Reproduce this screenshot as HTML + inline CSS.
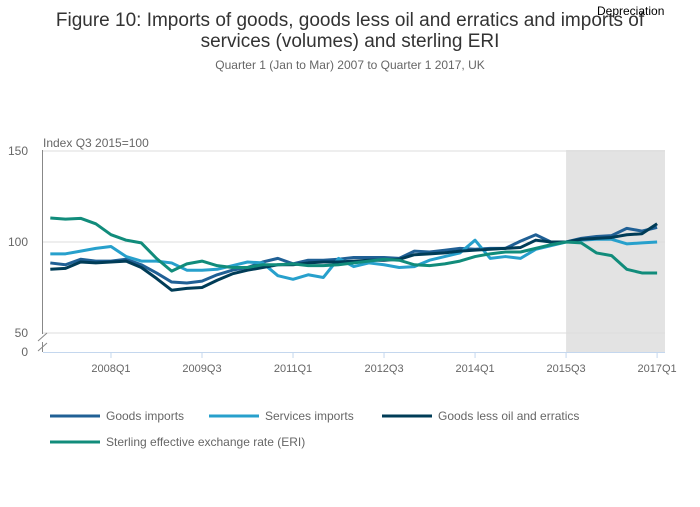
<!DOCTYPE html>
<html><head><meta charset="utf-8"><style>
body{margin:0;width:700px;height:502px;background:#fff;font-family:"Liberation Sans",sans-serif;overflow:hidden}
svg text{font-family:"Liberation Sans",sans-serif}
</style></head><body>
<svg id="c" width="700" height="502">
<text x="350" y="26" text-anchor="middle" font-size="19" fill="#333">Figure 10: Imports of goods, goods less oil and erratics and imports of</text>
<text x="350" y="47" text-anchor="middle" font-size="19" fill="#333">services (volumes) and sterling ERI</text>
<text x="350" y="69" text-anchor="middle" font-size="12" fill="#666">Quarter 1 (Jan to Mar) 2007 to Quarter 1 2017, UK</text>
<text x="597" y="15" font-size="12" fill="#000">Depreciation</text>
<text x="43" y="147" font-size="12" fill="#666">Index Q3 2015=100</text>
<g id="plot"></g>
</svg>
<script>
const categories=[];for(let y=2007;y<=2017;y++)for(let q=1;q<=4;q++){if(y===2017&&q>1)break;categories.push(y+'Q'+q);}
const goods=[88.5,87.5,90.5,89.5,89.5,90.5,87.5,83,78,77.5,78.5,82,84.5,86,89,91,88,90,90,90.5,91.5,91.5,91.5,91,95,94.5,95.5,96.5,96,96.5,96.5,100.5,104,100,100,102,103,103.5,107.5,106,108];
const services=[93.5,93.5,95,96.5,97.5,92,89.5,89.5,88.5,84.5,84.5,85,87,89,88.5,81.5,79.5,82,80.5,91,86.5,88.5,87.5,86,86.5,90,92,94,101,91,92,91,96,98,100,101,101.5,101.5,99,99.5,100];
const goodsLessOil=[85,85.5,89,88.5,89,89.5,86,80,73.5,74.5,75,79,82.5,84.5,86,87.5,87.5,88.5,89,89,89.5,90,90,90.5,93,93.5,94,95,95.5,96,96.5,97,101,100,100,101.5,102,102.5,104,104.5,110];
const eri=[113.2,112.6,113,110,104,101,99.5,91,84,88,89.5,87,86,86,87.5,87.5,88,87,87,87.5,88.5,89.5,90.5,90,87.5,87,88,89.5,92,93.5,94.5,94.5,96.5,98.5,100,99.5,94,92.5,85,83,83];
const yTicks=[150,100,50];
const xTickLabels=['2008Q1','2009Q3','2011Q1','2012Q3','2014Q1','2015Q3','2017Q1'];
const seriesNames=['Goods imports','Services imports','Goods less oil and erratics','Sterling effective exchange rate (ERI)'];
const colors=['#206095','#27a0cc','#003c57','#118c7b'];
const NS='http://www.w3.org/2000/svg';
const g=document.getElementById('plot');
const X=i=>50.3+i*15.17;
const Y=v=>242-(v-100)*1.82;
function mk(t,a){const e=document.createElementNS(NS,t);for(const k in a)e.setAttribute(k,a[k]);g.appendChild(e);return e;}
let r=mk('rect',{x:X(34),y:150,width:665-X(34),height:202,fill:'#e3e3e3'});


yTicks.forEach(v=>{
 let l=mk('line',{x1:43,x2:665,y1:Y(v),y2:Y(v),stroke:'#ddd','stroke-width':1});
 
 
 let t=mk('text',{x:28,y:Y(v)+4,'text-anchor':'end','font-size':12,fill:'#666'});t.textContent=v;
 
 
});
let z=mk('text',{x:28,y:356,'text-anchor':'end','font-size':12,fill:'#666'});z.textContent='0';


let ya=mk('path',{d:'M42.5,150V334M42.5,342V352',stroke:'#888',fill:'none'});


let br=mk('path',{d:'M38,341L47,333M38,351L47,343',stroke:'#888',fill:'none'});


let xa=mk('line',{x1:43,x2:665,y1:352.5,y2:352.5,stroke:'#c4d7ee'});


xTickLabels.forEach(lab=>{
 const i=categories.indexOf(lab);
 let tk=mk('line',{x1:X(i),x2:X(i),y1:352,y2:358,stroke:'#c4d7ee'});
 
 
 let t=mk('text',{x:X(i),y:372,'text-anchor':'middle','font-size':11,fill:'#666'});t.textContent=lab;
 
 
});
[goods,services,goodsLessOil,eri].forEach((s,k)=>{
 let p=mk('polyline',{points:s.map((v,i)=>X(i)+','+Y(v)).join(' '),fill:'none',stroke:colors[k],'stroke-width':3,'stroke-linejoin':'round'});
 
 
});
const lp=[[50,416],[209,416],[382,416],[50,442]];
seriesNames.forEach((n,k)=>{
 let l=mk('line',{x1:lp[k][0],x2:lp[k][0]+50,y1:lp[k][1],y2:lp[k][1],stroke:colors[k],'stroke-width':3});
 
 
 let t=mk('text',{x:lp[k][0]+56,y:lp[k][1]+4,'font-size':12,fill:'#666'});t.textContent=n;
 
 
});
</script>
</body></html>
